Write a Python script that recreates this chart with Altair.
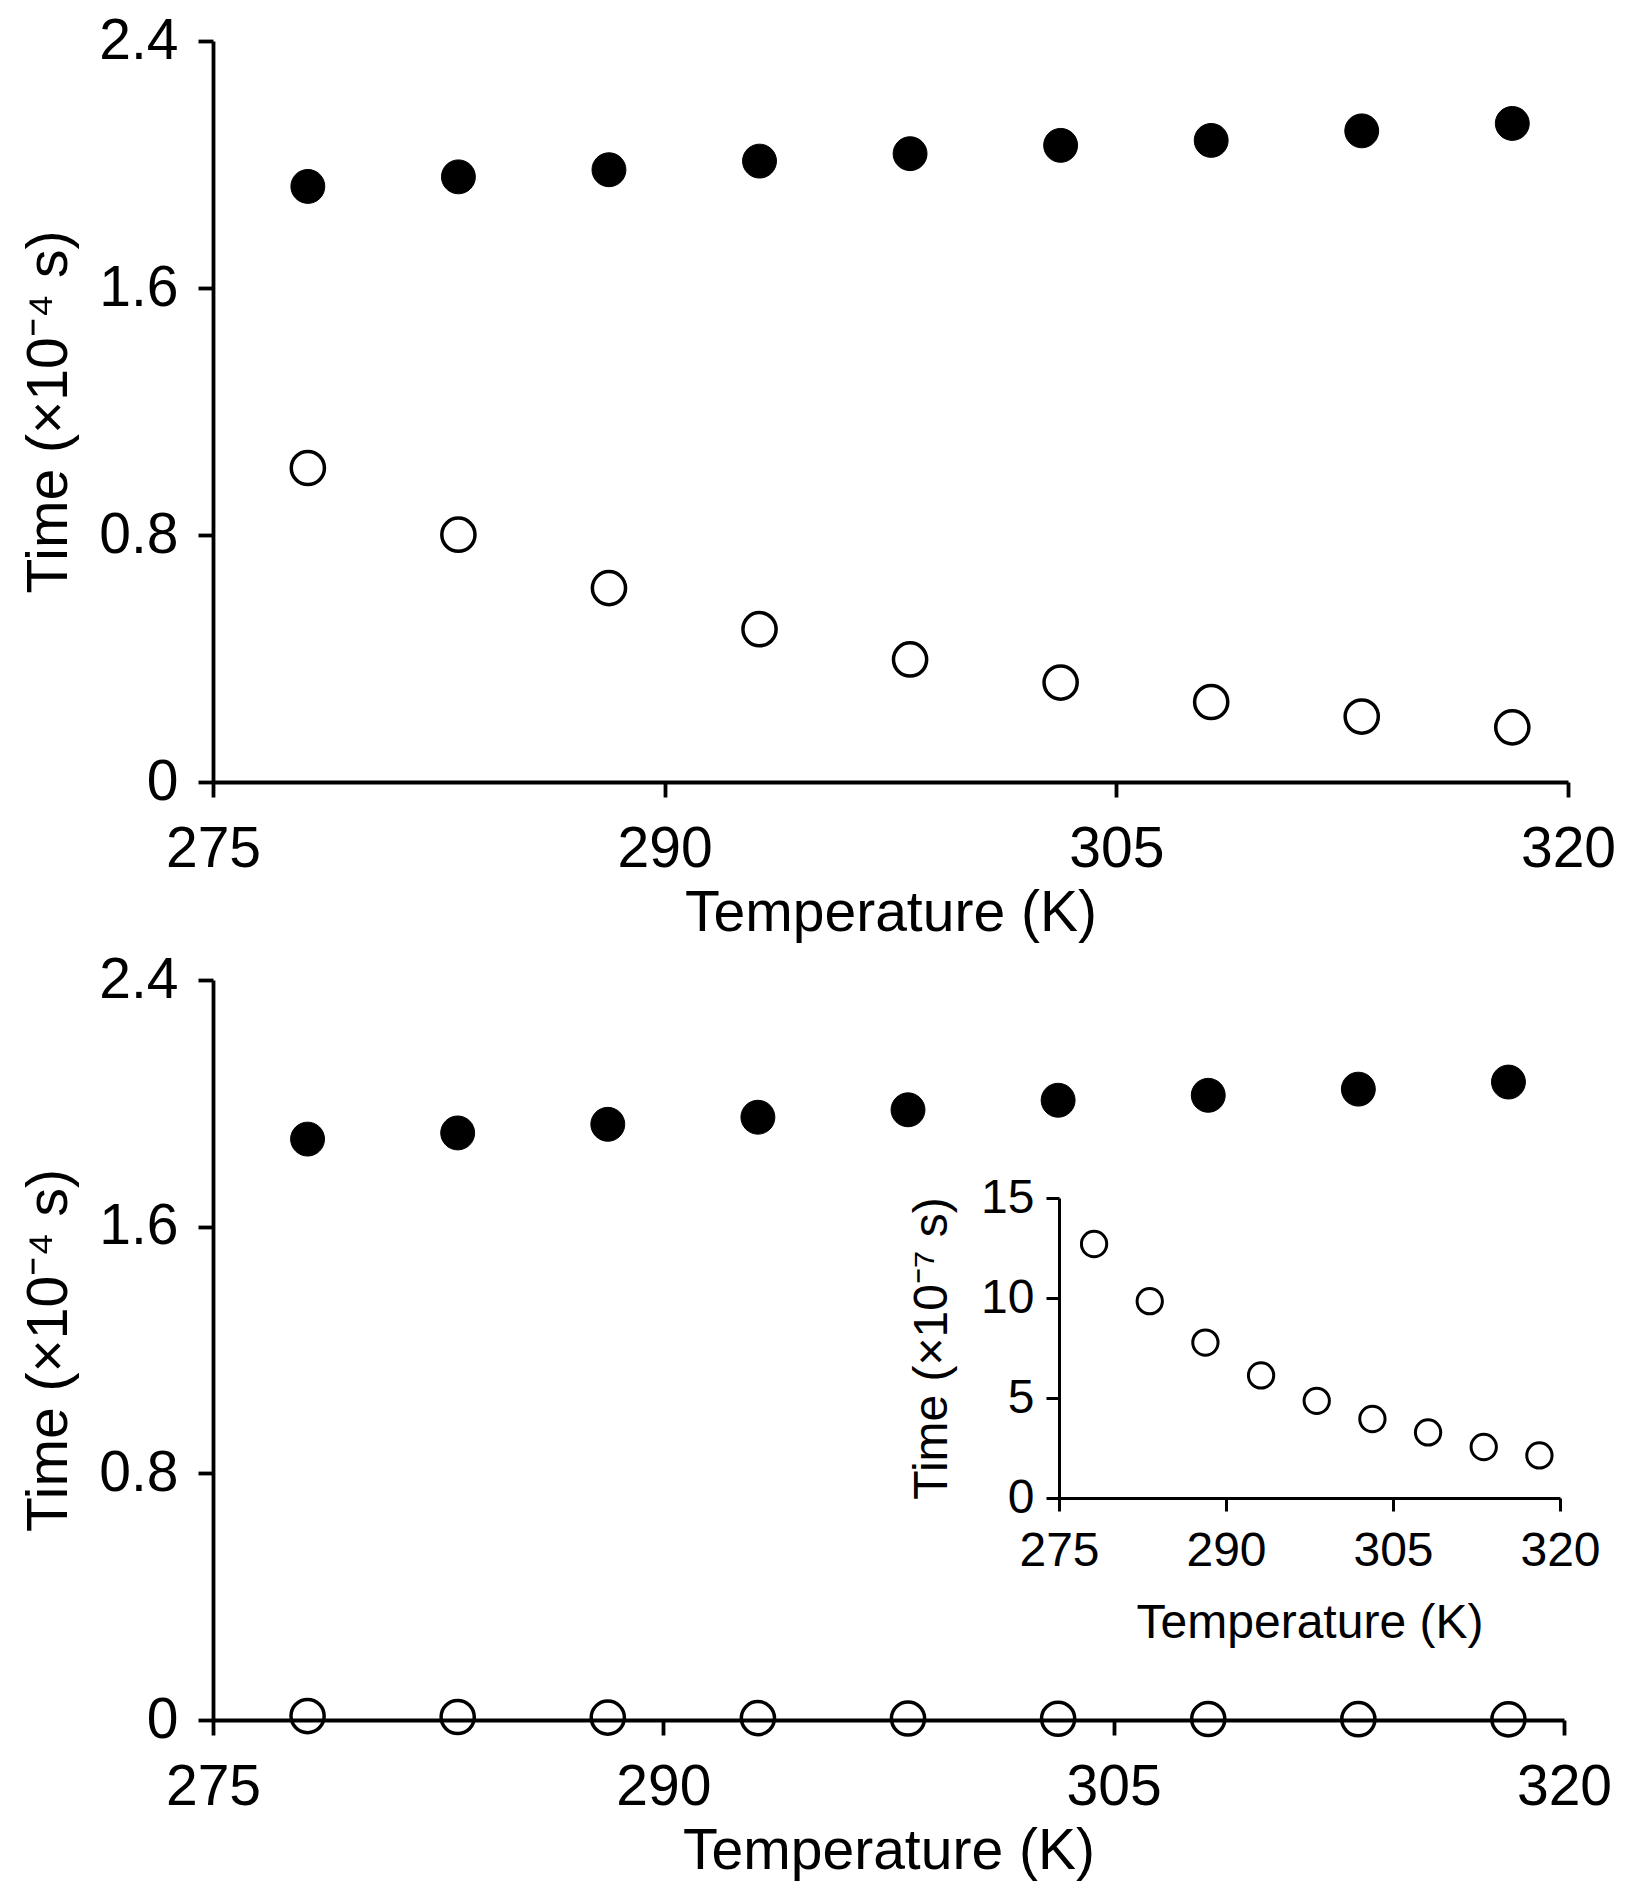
import altair as alt
import pandas as pd

# ---- data ----
temps = [278.15, 283.15, 288.15, 293.15, 298.15, 303.15, 308.15, 313.15, 318.15]

top_filled = [1.929, 1.960, 1.983, 2.011, 2.035, 2.062, 2.078, 2.109, 2.133]
top_open = [1.017, 0.801, 0.628, 0.495, 0.397, 0.322, 0.259, 0.212, 0.177]

bot_filled = [1.884, 1.904, 1.932, 1.955, 1.979, 2.010, 2.026, 2.046, 2.069]
bot_open = [0.0127, 0.0098, 0.0078, 0.0061, 0.0049, 0.0040, 0.0033, 0.0026, 0.0021]

inset_open = [12.7, 9.84, 7.77, 6.13, 4.86, 3.95, 3.28, 2.55, 2.13]

x_ticks = [275, 290, 305, 320]
y_ticks_main = [0, 0.8, 1.6, 2.4]
y_ticks_inset = [0, 5, 10, 15]

x_title = "Temperature (K)"
y_title_main = "Time (×10⁻⁴ s)"
y_title_inset = "Time (×10⁻⁷ s)"

FONT = "Liberation Sans"
MAIN_FS = 57
INSET_FS = 48

common_axis = dict(labelFont=FONT, titleFont=FONT, labelColor="black", titleColor="black",
                   domainColor="black", tickColor="black", titleFontWeight="normal",
                   labelFontWeight="normal", grid=False)


def main_axis_x():
    return alt.Axis(values=x_ticks, title=x_title, labelFontSize=MAIN_FS, titleFontSize=MAIN_FS,
                    tickSize=15, tickWidth=3.8, domainWidth=3.8, labelPadding=24, titlePadding=8,
                    labelFlush=False, **common_axis)


def main_axis_y():
    return alt.Axis(values=y_ticks_main, format="~g", title=y_title_main, labelFontSize=MAIN_FS,
                    titleFontSize=MAIN_FS, tickSize=15, tickWidth=3.8, domainWidth=3.8,
                    labelPadding=20, titlePadding=20, **common_axis)


def main_panel(filled, opened, w, h):
    df = pd.DataFrame({"T": temps, "filled": filled, "open": opened})
    xs = alt.Scale(domain=[275, 320], nice=False, zero=False)
    ys = alt.Scale(domain=[0, 2.4], nice=False, zero=False)
    base = alt.Chart(df)
    f = base.mark_point(shape="circle", filled=True, fill="black", stroke="black",
                        strokeWidth=1, size=1150, opacity=1).encode(
        x=alt.X("T:Q", scale=xs, axis=main_axis_x()),
        y=alt.Y("filled:Q", scale=ys, axis=main_axis_y()),
    )
    o = base.mark_point(shape="circle", filled=False, stroke="black",
                        strokeWidth=3.5, size=1100, opacity=1).encode(
        x=alt.X("T:Q", scale=xs, axis=main_axis_x()),
        y=alt.Y("open:Q", scale=ys, axis=main_axis_y()),
    )
    return alt.layer(f, o).properties(width=w, height=h)


top = main_panel(top_filled, top_open, 1355, 741)

bottom_main = main_panel(bot_filled, bot_open, 1351, 740)

inset_df = pd.DataFrame({"Ti": temps, "ti": inset_open})
inset = alt.Chart(inset_df).mark_point(shape="circle", filled=False, stroke="black",
                                       strokeWidth=3, size=640, opacity=1).encode(
    x=alt.X("Ti:Q",
            scale=alt.Scale(domain=[275, 320], range=[846, 1347], nice=False, zero=False),
            axis=alt.Axis(orient="bottom", offset=-222, values=x_ticks, title=x_title,
                          labelFontSize=INSET_FS, titleFontSize=INSET_FS, tickSize=13,
                          tickWidth=3, domainWidth=3, labelPadding=16, titlePadding=24,
                          labelFlush=False, **common_axis)),
    y=alt.Y("ti:Q",
            scale=alt.Scale(domain=[0, 15], range=[518, 218], nice=False, zero=False),
            axis=alt.Axis(orient="left", offset=-846, values=y_ticks_inset, title=y_title_inset,
                          labelFontSize=INSET_FS, titleFontSize=INSET_FS, tickSize=13,
                          tickWidth=3, domainWidth=3, labelPadding=12, titlePadding=24,
                          **common_axis)),
)

bottom = alt.layer(bottom_main, inset).resolve_scale(x="independent", y="independent")

chart = alt.vconcat(top, bottom, spacing=198, bounds="flush").properties(
    padding={"left": 12, "top": 4, "right": 10, "bottom": 5},
    background="white",
).configure_axis(
    labelFont=FONT, titleFont=FONT, labelColor="black", titleColor="black",
    domainColor="black", tickColor="black", titleFontWeight="normal",
).configure_view(stroke=None)

chart.save("out.html", embed_options={"renderer": "svg", "actions": False})
